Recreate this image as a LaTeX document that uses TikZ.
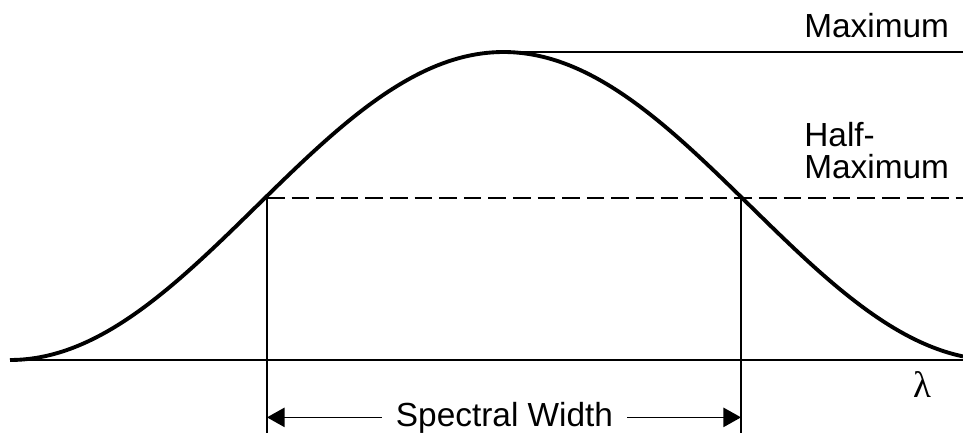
\documentclass[tikz,border=0pt]{standalone}
\usepackage{fontspec}
\setmainfont{Liberation Sans}
\newfontfamily\greekfont{Liberation Serif}
\usepackage{tikz}
\usetikzlibrary{arrows.meta, calc}

\begin{document}
\begin{tikzpicture}[
    x=0.02cm, y=-0.02cm,
    curve/.style={line width=2.2pt, line join=round},
    thin/.style={line width=0.8pt},
    halfline/.style={line width=0.8pt, dash pattern=on 10pt off 4pt},
    arrow/.style={line width=0.8pt, -{Triangle[length=10pt, width=11pt]}},
    label/.style={font=\fontsize{19}{18}\selectfont, inner sep=0pt, align=left}
]
\useasboundingbox (0,0) rectangle (963,433);

% 坐标点
\coordinate (peak) at (503.5,52);
\coordinate (maxend) at (963,52);
\coordinate (hl) at (267,198);
\coordinate (hr) at (741,198);
\coordinate (halfend) at (963,198);
\coordinate (hlb) at (267,433);
\coordinate (hrb) at (741,433);
\coordinate (b0) at (11,360);
\coordinate (b1) at (963,360);

% 基线与曲线
\draw[thin] (b0) -- (b1);
\draw[curve] plot[domain=10:963, samples=160, smooth]
    (\x, {360-154*(1+cos(0.364742*(\x-503.5)))});

% 最大值与半高线
\draw[thin] (peak) -- (maxend);
\draw[halfline] (hl) -- (halfend);
\draw[thin] (hl) -- (hlb);
\draw[thin] (hr) -- (hrb);

% 文字
\node[label, anchor=base west] (max) at (804,37) {Maximum};
\node[label, anchor=base west] (half) at (804,178) {Half-\\Maximum};
\node[font=\fontsize{21}{21}\selectfont\greekfont, inner sep=0pt] (lam) at (922,385) {λ};
\node[label, inner xsep=8pt] (sw) at (504.5,426) [anchor=base] {Spectral Width};

% 谱宽箭头
\draw[arrow] (sw.west) -- (sw.west -| hl);
\draw[arrow] (sw.east) -- (sw.east -| hr);
\end{tikzpicture}
\end{document}
